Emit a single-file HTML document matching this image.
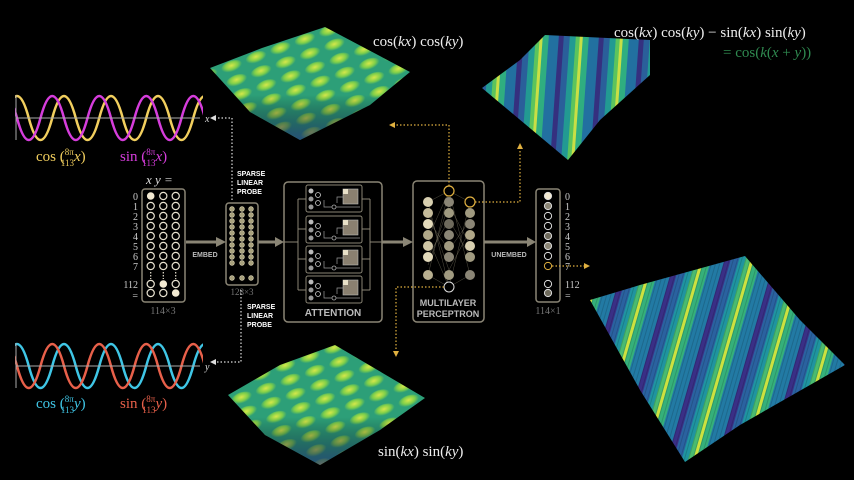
<!DOCTYPE html>
<html><head><meta charset="utf-8"><style>
html,body{margin:0;padding:0;background:#000;}
svg{display:block;}
.s{font-family:"Liberation Serif",serif;}
.b{font-family:"Liberation Sans",sans-serif;font-weight:bold;}
</style></head><body>
<svg width="854" height="480" viewBox="0 0 854 480" xmlns="http://www.w3.org/2000/svg">
<defs>
<pattern id="stripes" width="40" height="40" patternUnits="userSpaceOnUse" patternTransform="rotate(4)">
<rect width="40" height="40" fill="#1f7f95"/>
<rect x="0" width="5" height="40" fill="#35307f"/>
<rect x="5" width="6" height="40" fill="#2a5f9a"/>
<rect x="11" width="6" height="40" fill="#229a92"/>
<rect x="17" width="4" height="40" fill="#5cc45c"/>
<rect x="21" width="3" height="40" fill="#c9df45"/>
<rect x="24" width="6" height="40" fill="#2fae80"/>
<rect x="30" width="10" height="40" fill="#2270a0"/>
</pattern>
<pattern id="stripes2" width="48" height="48" patternUnits="userSpaceOnUse" patternTransform="rotate(16)">
<rect width="48" height="48" fill="#1f7f98"/>
<rect x="0" width="6" height="48" fill="#3a2f86"/>
<rect x="6" width="8" height="48" fill="#2a62a0"/>
<rect x="14" width="6" height="48" fill="#1f94a0"/>
<rect x="20" width="5" height="48" fill="#49bb70"/>
<rect x="25" width="3" height="48" fill="#cde13f"/>
<rect x="28" width="7" height="48" fill="#35b07a"/>
<rect x="35" width="13" height="48" fill="#227aa4"/>
</pattern>
<pattern id="fine" width="4" height="4" patternUnits="userSpaceOnUse" patternTransform="rotate(16)">
<rect width="1" height="4" fill="#000" opacity="0.15"/>
</pattern>
<radialGradient id="bump" cx="50%" cy="40%" r="50%">
<stop offset="0" stop-color="#d6e84a"/><stop offset="0.6" stop-color="#7fcf4a"/><stop offset="1" stop-color="#7fcf4a" stop-opacity="0"/>
</radialGradient>
<pattern id="bumps" width="26" height="15" patternUnits="userSpaceOnUse" patternTransform="rotate(-20)">
<rect width="26" height="15" fill="#2d9f78"/>
<ellipse cx="13" cy="7" rx="11" ry="6" fill="url(#bump)"/>
</pattern>
<linearGradient id="shadeDown" x1="0" y1="0" x2="0" y2="1">
<stop offset="0" stop-color="#000" stop-opacity="0"/><stop offset="0.6" stop-color="#000" stop-opacity="0"/><stop offset="1" stop-color="#24307a" stop-opacity="0.7"/>
</linearGradient>
<clipPath id="c1"><rect x="15" y="80" width="188" height="90"/></clipPath>
<clipPath id="c2"><rect x="15" y="330" width="188" height="90"/></clipPath>
</defs>

<!-- surfaces -->
<polygon points="210,68 262,48 325,27 410,72 370,105 300,140 250,112" fill="url(#bumps)"/>
<polygon points="210,68 262,48 325,27 410,72 370,105 300,140 250,112" fill="url(#shadeDown)"/>
<polygon points="482,88 520,60 545,35 650,40 650,75 600,120 568,160" fill="url(#stripes)"/>
<polygon points="228,395 280,365 335,345 425,398 380,430 320,465 265,435" fill="url(#bumps)"/>
<polygon points="228,395 280,365 335,345 425,398 380,430 320,465 265,435" fill="url(#shadeDown)"/>
<polygon points="590,300 640,285 745,256 800,320 845,365 740,425 685,462 640,390" fill="url(#stripes2)"/>
<polygon points="590,300 640,285 745,256 800,320 845,365 740,425 685,462 640,390" fill="url(#fine)"/>

<!-- sine waves top -->
<g clip-path="url(#c1)" fill="none" stroke-width="2.5">
<path d="M5.25 118 Q17 74 28.75 118 T52.25 118 T75.75 118 T99.25 118 T122.75 118 T146.25 118 T169.75 118 T193.25 118 T216.75 118" stroke="#f2cf5e"/>
<path d="M-6.5 118 Q5.25 162 17 118 T40.5 118 T64 118 T87.5 118 T111 118 T134.5 118 T158 118 T181.5 118 T205 118" stroke="#d63ddc" transform="scale(1,-1) translate(0,-236)"/>
</g>
<line x1="16" y1="95" x2="16" y2="140" stroke="#aaa" stroke-width="1"/>
<line x1="16" y1="118" x2="200" y2="118" stroke="#aaa" stroke-width="1"/>
<text x="205" y="122" class="s" font-size="10" fill="#ddd" font-style="italic">x</text>
<text x="36" y="161" class="s" font-size="15" fill="#f2cf5e">cos (<tspan font-size="9" dy="-6">8π</tspan><tspan font-size="9" dx="-13" dy="11">113</tspan><tspan dy="-5" font-style="italic">x</tspan>)</text>
<text x="120" y="161" class="s" font-size="15" fill="#d63ddc">sin (<tspan font-size="9" dy="-6">8π</tspan><tspan font-size="9" dx="-13" dy="11">113</tspan><tspan dy="-5" font-style="italic">x</tspan>)</text>

<!-- sine waves bottom -->
<g clip-path="url(#c2)" fill="none" stroke-width="2.5">
<path d="M5.25 366 Q17 322 28.75 366 T52.25 366 T75.75 366 T99.25 366 T122.75 366 T146.25 366 T169.75 366 T193.25 366 T216.75 366" stroke="#3fc6e6"/>
<path d="M-6.5 366 Q5.25 322 17 366 T40.5 366 T64 366 T87.5 366 T111 366 T134.5 366 T158 366 T181.5 366 T205 366" stroke="#e8604a"/>
</g>
<line x1="16" y1="343" x2="16" y2="388" stroke="#aaa" stroke-width="1"/>
<line x1="16" y1="366" x2="200" y2="366" stroke="#aaa" stroke-width="1"/>
<text x="205" y="370" class="s" font-size="10" fill="#ddd" font-style="italic">y</text>
<text x="36" y="408" class="s" font-size="15" fill="#3fc6e6">cos (<tspan font-size="9" dy="-6">8π</tspan><tspan font-size="9" dx="-13" dy="11">113</tspan><tspan dy="-5" font-style="italic">y</tspan>)</text>
<text x="120" y="408" class="s" font-size="15" fill="#e8604a">sin (<tspan font-size="9" dy="-6">8π</tspan><tspan font-size="9" dx="-13" dy="11">113</tspan><tspan dy="-5" font-style="italic">y</tspan>)</text>

<!-- formulas -->
<text x="373" y="46" class="s" font-size="15" fill="#eee">cos(<tspan font-style="italic">kx</tspan>) cos(<tspan font-style="italic">ky</tspan>)</text>
<text x="614" y="37" class="s" font-size="15" fill="#eee">cos(<tspan font-style="italic">kx</tspan>) cos(<tspan font-style="italic">ky</tspan>) − sin(<tspan font-style="italic">kx</tspan>) sin(<tspan font-style="italic">ky</tspan>)</text>
<text x="723" y="57" class="s" font-size="15" fill="#2f8a50">= cos(<tspan font-style="italic">k</tspan>(<tspan font-style="italic">x</tspan> + <tspan font-style="italic">y</tspan>))</text>
<text x="378" y="456" class="s" font-size="15" fill="#eee">sin(<tspan font-style="italic">kx</tspan>) sin(<tspan font-style="italic">ky</tspan>)</text>

<!-- input box -->
<text x="146" y="184" class="s" font-size="13" fill="#ddd" font-style="italic">x  y  =</text>
<rect x="142" y="189" width="43" height="113" rx="3" fill="none" stroke="#8a8575" stroke-width="1.5"/>
<g fill="none" stroke="#e8e2d0" stroke-width="1.2">
<circle cx="163.3" cy="196" r="3.6"/><circle cx="175.7" cy="196" r="3.6"/>
<circle cx="150.7" cy="206" r="3.6"/><circle cx="163.3" cy="206" r="3.6"/><circle cx="175.7" cy="206" r="3.6"/>
<circle cx="150.7" cy="216" r="3.6"/><circle cx="163.3" cy="216" r="3.6"/><circle cx="175.7" cy="216" r="3.6"/>
<circle cx="150.7" cy="226" r="3.6"/><circle cx="163.3" cy="226" r="3.6"/><circle cx="175.7" cy="226" r="3.6"/>
<circle cx="150.7" cy="236" r="3.6"/><circle cx="163.3" cy="236" r="3.6"/><circle cx="175.7" cy="236" r="3.6"/>
<circle cx="150.7" cy="246" r="3.6"/><circle cx="163.3" cy="246" r="3.6"/><circle cx="175.7" cy="246" r="3.6"/>
<circle cx="150.7" cy="256" r="3.6"/><circle cx="163.3" cy="256" r="3.6"/><circle cx="175.7" cy="256" r="3.6"/>
<circle cx="150.7" cy="266" r="3.6"/><circle cx="163.3" cy="266" r="3.6"/><circle cx="175.7" cy="266" r="3.6"/>
<circle cx="150.7" cy="284" r="3.6"/><circle cx="175.7" cy="284" r="3.6"/>
<circle cx="150.7" cy="293" r="3.6"/><circle cx="163.3" cy="293" r="3.6"/>
<line x1="150.7" y1="272" x2="150.7" y2="279" stroke-dasharray="1.5 1.5"/><line x1="163.3" y1="272" x2="163.3" y2="279" stroke-dasharray="1.5 1.5"/><line x1="175.7" y1="272" x2="175.7" y2="279" stroke-dasharray="1.5 1.5"/>
</g>
<g fill="#f3ead2"><circle cx="150.7" cy="196" r="3.8"/><circle cx="163.3" cy="284" r="3.8"/><circle cx="175.7" cy="293" r="3.8"/></g>
<g class="s" font-size="10" fill="#ccc" text-anchor="end">
<text x="138" y="200">0</text><text x="138" y="210">1</text><text x="138" y="220">2</text><text x="138" y="230">3</text><text x="138" y="240">4</text><text x="138" y="250">5</text><text x="138" y="260">6</text><text x="138" y="270">7</text><text x="138" y="288">112</text><text x="138" y="299">=</text>
</g>
<text x="163" y="314" class="s" font-size="10" fill="#777" text-anchor="middle">114×3</text>

<!-- embed arrow -->
<line x1="186" y1="242" x2="218" y2="242" stroke="#8a8575" stroke-width="3"/>
<polygon points="216,237 226,242 216,247" fill="#8a8575"/>
<text x="205" y="257" class="b" font-size="7" fill="#bbb" text-anchor="middle">EMBED</text>

<!-- embedding box -->
<rect x="226" y="203" width="32" height="82" rx="3" fill="none" stroke="#8a8575" stroke-width="1.5"/>
<g fill="#a9a27e" stroke="#d8d0b0" stroke-width="0.6">
<g id="ecol">
<circle cx="232" cy="209" r="2.4"/><circle cx="232" cy="215" r="2.4"/><circle cx="232" cy="221" r="2.4"/><circle cx="232" cy="227" r="2.4"/><circle cx="232" cy="233" r="2.4"/><circle cx="232" cy="239" r="2.4"/><circle cx="232" cy="245" r="2.4"/><circle cx="232" cy="251" r="2.4"/><circle cx="232" cy="257" r="2.4"/><circle cx="232" cy="263" r="2.4"/><circle cx="232" cy="278" r="2.4"/>
</g>
<use href="#ecol" x="10"/><use href="#ecol" x="19"/>
</g>
<text x="242" y="295" class="s" font-size="9" fill="#777" text-anchor="middle">128×3</text>
<text x="237" y="176" class="b" font-size="7" fill="#fff">SPARSE</text>
<text x="237" y="185" class="b" font-size="7" fill="#fff">LINEAR</text>
<text x="237" y="194" class="b" font-size="7" fill="#fff">PROBE</text>
<text x="247" y="309" class="b" font-size="7" fill="#fff">SPARSE</text>
<text x="247" y="318" class="b" font-size="7" fill="#fff">LINEAR</text>
<text x="247" y="327" class="b" font-size="7" fill="#fff">PROBE</text>

<line x1="258" y1="242" x2="276" y2="242" stroke="#8a8575" stroke-width="3"/>
<polygon points="275,237 284,242 275,247" fill="#8a8575"/>

<!-- attention -->
<rect x="284" y="182" width="98" height="140" rx="4" fill="none" stroke="#8a8575" stroke-width="1.5"/>
<g fill="none" stroke="#8a8575" stroke-width="1">
<path d="M284 242 H298 M298 199 V290 M298 199 H306 M298 229 H306 M298 259 H306 M298 290 H306"/>
<path d="M362 199 H370 M362 229 H370 M362 259 H370 M362 290 H370 M370 199 V290 M370 242 H382"/>
</g>
<g id="head">
<rect x="306" y="185" width="56" height="27" rx="2" fill="none" stroke="#8a8575" stroke-width="1"/>
<circle cx="311" cy="191" r="2.5" fill="#bbb"/><circle cx="318" cy="195" r="2.5" fill="none" stroke="#ccc" stroke-width="0.8"/><circle cx="311" cy="199" r="2.5" fill="#999"/><circle cx="318" cy="203" r="2.5" fill="none" stroke="#ccc" stroke-width="0.8"/><circle cx="311" cy="207" r="2.5" fill="#999"/>
<circle cx="334" cy="207" r="2" fill="none" stroke="#aaa" stroke-width="0.8"/>
<rect x="343" y="189" width="15" height="15" fill="#8a8070" stroke="#bbb" stroke-width="0.6"/>
<rect x="343" y="189" width="5" height="5" fill="#e8e0c8"/>
<path d="M324 200 V207 H332 M336 207 H360 M337 203 V197 H343" fill="none" stroke="#999" stroke-width="0.7"/>
</g>
<use href="#head" y="31"/><use href="#head" y="61"/><use href="#head" y="91"/>
<text x="333" y="316" class="b" font-size="10" fill="#bbb" text-anchor="middle">ATTENTION</text>

<line x1="382" y1="242" x2="404" y2="242" stroke="#8a8575" stroke-width="3"/>
<polygon points="403,237 413,242 403,247" fill="#8a8575"/>

<!-- MLP -->
<rect x="413" y="181" width="71" height="141" rx="4" fill="none" stroke="#8a8575" stroke-width="1.5"/>
<g stroke="#c8bfa0" stroke-width="0.3" opacity="0.7">
<path d="M428 202 L449 191 L470 202 M428 202 L449 287 L470 275 M428 275 L449 191 L470 275 M428 275 L449 287 L470 202 M428 238 L449 191 M428 238 L449 287 M428 220 L449 250 L470 220 M428 256 L449 220 L470 256 M428 210 L449 270 L470 230 M428 265 L449 205 L470 245"/>
</g>
<g>
<circle cx="428" cy="202" r="5" fill="#d8cfb0"/><circle cx="428" cy="213" r="5" fill="#c4ba9a"/><circle cx="428" cy="224" r="5" fill="#e2d9ba"/><circle cx="428" cy="235" r="5" fill="#b0a788"/><circle cx="428" cy="246" r="5" fill="#cfc6a6"/><circle cx="428" cy="257" r="5" fill="#e2d9ba"/><circle cx="428" cy="275" r="5" fill="#b8af90"/>
<circle cx="449" cy="191" r="5" fill="#000" stroke="#e0b040" stroke-width="1.2"/>
<circle cx="449" cy="202" r="5" fill="#8a8575"/><circle cx="449" cy="213" r="5" fill="#a09a80"/><circle cx="449" cy="224" r="5" fill="#6e6a5c"/><circle cx="449" cy="235" r="5" fill="#8a8575"/><circle cx="449" cy="246" r="5" fill="#a09a80"/><circle cx="449" cy="257" r="5" fill="#8a8575"/><circle cx="449" cy="275" r="5" fill="#a09a80"/>
<circle cx="449" cy="287" r="5" fill="#000" stroke="#ddd" stroke-width="1"/>
<circle cx="470" cy="202" r="5" fill="#000" stroke="#e0b040" stroke-width="1.2"/>
<circle cx="470" cy="213" r="5" fill="#a09a80"/><circle cx="470" cy="224" r="5" fill="#8a8575"/><circle cx="470" cy="235" r="5" fill="#b0a788"/><circle cx="470" cy="246" r="5" fill="#d8cfb0"/><circle cx="470" cy="257" r="5" fill="#a09a80"/><circle cx="470" cy="275" r="5" fill="#8a8575"/>
</g>
<text x="448" y="306" class="b" font-size="9" fill="#bbb" text-anchor="middle">MULTILAYER</text>
<text x="448" y="317" class="b" font-size="9" fill="#bbb" text-anchor="middle">PERCEPTRON</text>

<line x1="484" y1="242" x2="528" y2="242" stroke="#8a8575" stroke-width="3"/>
<polygon points="527,237 536,242 527,247" fill="#8a8575"/>
<text x="509" y="257" class="b" font-size="7" fill="#bbb" text-anchor="middle">UNEMBED</text>

<!-- output -->
<rect x="536" y="189" width="24" height="113" rx="3" fill="none" stroke="#8a8575" stroke-width="1.5"/>
<g stroke="#ddd" stroke-width="1">
<circle cx="548" cy="196" r="3.6" fill="#f3ead2"/><circle cx="548" cy="206" r="3.6" fill="#8a8575"/><circle cx="548" cy="216" r="3.6" fill="#000"/><circle cx="548" cy="226" r="3.6" fill="#000"/><circle cx="548" cy="236" r="3.6" fill="#6e6a5c"/><circle cx="548" cy="246" r="3.6" fill="#8a8575"/><circle cx="548" cy="256" r="3.6" fill="#000"/><circle cx="548" cy="266" r="3.6" fill="#000" stroke="#e0b040"/><circle cx="548" cy="284" r="3.6" fill="#000"/><circle cx="548" cy="293" r="3.6" fill="#6e6a5c"/>
</g>
<g class="s" font-size="10" fill="#ccc">
<text x="565" y="200">0</text><text x="565" y="210">1</text><text x="565" y="220">2</text><text x="565" y="230">3</text><text x="565" y="240">4</text><text x="565" y="250">5</text><text x="565" y="260">6</text><text x="565" y="270">7</text><text x="565" y="288">112</text><text x="565" y="299">=</text>
</g>
<text x="548" y="314" class="s" font-size="10" fill="#777" text-anchor="middle">114×1</text>

<!-- dotted connectors -->
<g fill="none" stroke-width="1.2" stroke-dasharray="1.5 2">
<path d="M232 200 V118 H214" stroke="#ddd"/>
<path d="M241 290 V362 H214" stroke="#ddd"/>
<path d="M449 186 V125 H394" stroke="#e0b040"/>
<path d="M475 202 H520 V148" stroke="#e0b040"/>
<path d="M444 287 H396 V352" stroke="#e0b040"/>
<path d="M552 266 H584" stroke="#e0b040"/>
</g>
<polygon points="210,118 216,115 216,121" fill="#ddd"/>
<polygon points="210,362 216,359 216,365" fill="#ddd"/>
<polygon points="389,125 395,122 395,128" fill="#e0b040"/>
<polygon points="520,143 517,149 523,149" fill="#e0b040"/>
<polygon points="396,357 393,351 399,351" fill="#e0b040"/>
<polygon points="590,266 584,263 584,269" fill="#e0b040"/>
</svg>
</body></html>
